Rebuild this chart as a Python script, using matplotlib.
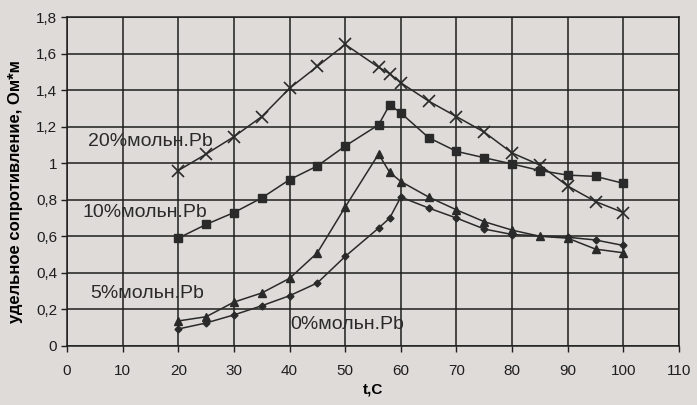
import matplotlib
matplotlib.use("Agg")
import matplotlib.pyplot as plt
from matplotlib.ticker import FuncFormatter

# Data
x20 = [20, 25, 30, 35, 40, 45, 50, 56, 58, 60, 65, 70, 75, 80, 85, 90, 95, 100]
y20 = [0.96, 1.05, 1.145, 1.255, 1.41, 1.53, 1.65, 1.525, 1.49, 1.44, 1.34, 1.255, 1.17, 1.056, 0.99, 0.875, 0.79, 0.73]

x10 = [20, 25, 30, 35, 40, 45, 50, 56, 58, 60, 65, 70, 75, 80, 85, 90, 95, 100]
y10 = [0.59, 0.665, 0.73, 0.81, 0.91, 0.985, 1.094, 1.21, 1.32, 1.275, 1.14, 1.065, 1.03, 0.996, 0.96, 0.935, 0.928, 0.89]

x5 = [20, 25, 30, 35, 40, 45, 50, 56, 58, 60, 65, 70, 75, 80, 85, 90, 95, 100]
y5 = [0.137, 0.16, 0.24, 0.29, 0.37, 0.51, 0.76, 1.05, 0.95, 0.90, 0.815, 0.745, 0.68, 0.634, 0.60, 0.59, 0.53, 0.51]

x0 = [20, 25, 30, 35, 40, 45, 50, 56, 58, 60, 65, 70, 75, 80, 90, 95, 100]
y0 = [0.093, 0.126, 0.17, 0.22, 0.275, 0.345, 0.49, 0.645, 0.70, 0.815, 0.755, 0.70, 0.64, 0.61, 0.595, 0.58, 0.55]

labels = ["20%мольн.Pb", "10%мольн.Pb", "5%мольн.Pb", "0%мольн.Pb"]
x_ticks = list(range(0, 111, 10))
y_ticks = [0, 0.2, 0.4, 0.6, 0.8, 1.0, 1.2, 1.4, 1.6, 1.8]

plt.rcParams['font.family'] = ['Liberation Sans', 'DejaVu Sans']
bg = '#dedbd9'
ink = '#2a2a2a'

fig = plt.figure(figsize=(6.97, 4.05), dpi=100, facecolor=bg)
ax = fig.add_axes([0.0961, 0.1457, 0.8781, 0.8123])
ax.set_facecolor(bg)

ax.plot(x20, y20, color=ink, lw=1.1, marker='x', ms=9, mew=1.2, zorder=3)
ax.plot(x10, y10, color=ink, lw=1.1, marker='s', ms=5.5, zorder=3)
ax.plot(x5, y5, color=ink, lw=1.1, marker='^', ms=5.5, zorder=3)
ax.plot(x0, y0, color=ink, lw=1.1, marker='D', ms=3.5, zorder=3)

ax.set_xlim(0, 110)
ax.set_ylim(0, 1.8)
ax.set_xticks(x_ticks)
ax.set_yticks(y_ticks)
ax.yaxis.set_major_formatter(FuncFormatter(lambda v, p: ('%g' % round(v, 1)).replace('.', ',')))
ax.grid(True, color='#1e1e1e', lw=1.1, zorder=1)
for s in ax.spines.values():
    s.set_color('#1e1e1e')
    s.set_linewidth(1.1)
ax.tick_params(axis='both', colors='#1e1e1e', labelsize=11, length=4, width=1)
ax.tick_params(axis='x', pad=9)
ax.tick_params(axis='y', pad=3)

ax.set_xlabel('t,C', fontsize=11, fontweight='bold', labelpad=3)
ax.set_ylabel('удельное сопротивление, Ом*м', fontsize=12, fontweight='bold')
ax.yaxis.set_label_coords(-0.072, 0.468)

ax.text(3.8, 1.12, labels[0], fontsize=14, color=ink, va='center', zorder=4)
ax.text(2.8, 0.733, labels[1], fontsize=14, color=ink, va='center', zorder=4)
ax.text(4.2, 0.287, labels[2], fontsize=14, color=ink, va='center', zorder=4)
ax.text(40.2, 0.115, labels[3], fontsize=14, color=ink, va='center', zorder=4)

fig.savefig('out.png', dpi=100, facecolor=bg)
